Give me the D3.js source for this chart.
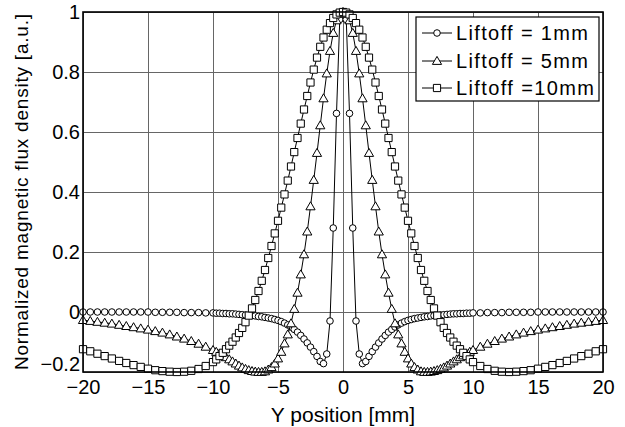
<!DOCTYPE html>
<html>
<head>
<meta charset="utf-8">
<script src="https://cdnjs.cloudflare.com/ajax/libs/d3/7.8.5/d3.min.js"></script>
<style>
    body { margin: 0; background: #fff; }
    text { font-family: "Liberation Sans", Arial, sans-serif; fill: #000; }
</style>
</head>
<body>
<div id="chart"></div>
<script>
"use strict";

// Y position [mm] of the samples
const yPos = [-20, -19.44, -18.89, -18.33, -17.78, -17.22, -16.67, -16.11, -15.56, -15, -14.44, -13.89, -13.33, -12.78, -12.22, -11.67, -11.11, -10.56,
    -10, -9.75, -9.5, -9.25, -9, -8.75, -8.5, -8.25, -8, -7.75, -7.5, -7.25, -7, -6.75, -6.5, -6.25, -6, -5.75, -5.5, -5.25, -5, -4.75, -4.5, -4.25, -4, -3.75, -3.5, -3.25, -3, -2.75, -2.5, -2.25, -2, -1.75, -1.5, -1.25, -1, -0.75, -0.5, -0.25,
    0,
    0.25, 0.5, 0.75, 1, 1.25, 1.5, 1.75, 2, 2.25, 2.5, 2.75, 3, 3.25, 3.5, 3.75, 4, 4.25, 4.5, 4.75, 5, 5.25, 5.5, 5.75, 6, 6.25, 6.5, 6.75, 7, 7.25, 7.5, 7.75, 8, 8.25, 8.5, 8.75, 9, 9.25, 9.5, 9.75, 10,
    10.56, 11.11, 11.67, 12.22, 12.78, 13.33, 13.89, 14.44, 15, 15.56, 16.11, 16.67, 17.22, 17.78, 18.33, 18.89, 19.44, 20];

// normalized flux density, liftoff 1mm
const liftoff1 = [0, 0, 0, 0, 0, 0, 0, 0, 0, 0, -0.001, -0.001, -0.001, -0.001, -0.002, -0.002, -0.002, -0.003,
    -0.003, -0.004, -0.004, -0.005, -0.005, -0.006, -0.006, -0.007, -0.008, -0.009, -0.010, -0.011, -0.012, -0.013, -0.015, -0.016, -0.018, -0.020, -0.022, -0.025, -0.028, -0.032, -0.037, -0.043, -0.050, -0.058, -0.067, -0.078, -0.090, -0.103, -0.117, -0.132, -0.148, -0.165, -0.172, -0.140, -0.030, 0.280, 0.662, 0.975,
    1.000,
    0.975, 0.662, 0.280, -0.030, -0.140, -0.172, -0.165, -0.148, -0.132, -0.117, -0.103, -0.090, -0.078, -0.067, -0.058, -0.050, -0.043, -0.037, -0.032, -0.028, -0.025, -0.022, -0.020, -0.018, -0.016, -0.015, -0.013, -0.012, -0.011, -0.010, -0.009, -0.008, -0.007, -0.006, -0.006, -0.005, -0.005, -0.004, -0.004, -0.003,
    -0.003, -0.002, -0.002, -0.002, -0.001, -0.001, -0.001, -0.001, 0, 0, 0, 0, 0, 0, 0, 0, 0, 0];

// liftoff 5mm
const liftoff5 = [-0.027, -0.030, -0.033, -0.036, -0.039, -0.043, -0.047, -0.051, -0.055, -0.059, -0.064, -0.069, -0.075, -0.082, -0.089, -0.097, -0.106, -0.116,
    -0.127, -0.133, -0.139, -0.145, -0.151, -0.158, -0.165, -0.172, -0.179, -0.185, -0.190, -0.194, -0.197, -0.199, -0.200, -0.200, -0.198, -0.192, -0.184, -0.172, -0.155, -0.133, -0.105, -0.075, -0.038, 0.010, 0.064, 0.125, 0.192, 0.268, 0.352, 0.440, 0.530, 0.622, 0.712, 0.795, 0.870, 0.930, 0.972, 0.994,
    1.000,
    0.994, 0.972, 0.930, 0.870, 0.795, 0.712, 0.622, 0.530, 0.440, 0.352, 0.268, 0.192, 0.125, 0.064, 0.010, -0.038, -0.075, -0.105, -0.133, -0.155, -0.172, -0.184, -0.192, -0.198, -0.200, -0.200, -0.199, -0.197, -0.194, -0.190, -0.185, -0.179, -0.172, -0.165, -0.158, -0.151, -0.145, -0.139, -0.133, -0.127,
    -0.116, -0.106, -0.097, -0.089, -0.082, -0.075, -0.069, -0.064, -0.059, -0.055, -0.051, -0.047, -0.043, -0.039, -0.036, -0.033, -0.030, -0.027];

// liftoff 10mm
const liftoff10 = [-0.124, -0.131, -0.139, -0.147, -0.155, -0.163, -0.170, -0.177, -0.183, -0.189, -0.194, -0.197, -0.199, -0.200, -0.199, -0.196, -0.190, -0.180,
    -0.167, -0.158, -0.147, -0.136, -0.124, -0.112, -0.099, -0.085, -0.070, -0.053, -0.034, -0.012, 0.012, 0.040, 0.070, 0.104, 0.140, 0.180, 0.220, 0.262, 0.304, 0.348, 0.392, 0.438, 0.485, 0.533, 0.580, 0.628, 0.675, 0.720, 0.765, 0.808, 0.848, 0.884, 0.915, 0.941, 0.963, 0.980, 0.992, 0.998,
    1.000,
    0.998, 0.992, 0.980, 0.963, 0.941, 0.915, 0.884, 0.848, 0.808, 0.765, 0.720, 0.675, 0.628, 0.580, 0.533, 0.485, 0.438, 0.392, 0.348, 0.304, 0.262, 0.220, 0.180, 0.140, 0.104, 0.070, 0.040, 0.012, -0.012, -0.034, -0.053, -0.070, -0.085, -0.099, -0.112, -0.124, -0.136, -0.147, -0.158, -0.167,
    -0.180, -0.190, -0.196, -0.199, -0.200, -0.199, -0.197, -0.194, -0.189, -0.183, -0.177, -0.170, -0.163, -0.155, -0.147, -0.139, -0.131, -0.124];

const seriesNames = ["Liftoff = 1mm", "Liftoff = 5mm", "Liftoff =10mm"];
const markerTypes = ["circle", "triangle", "square"];
const xTicks = [-20, -15, -10, -5, 0, 5, 10, 15, 20];
const yTicks = [-0.2, 0, 0.2, 0.4, 0.6, 0.8, 1];

let margin = {top: 12, right: 22, bottom: 55, left: 83},
    width = 625 - margin.left - margin.right,
    height = 427 - margin.top - margin.bottom;

let svg = d3.select("#chart")
    .append("svg")
    .attr("width", 625)
    .attr("height", 427);

let chart = svg.append("g")
    .attr("transform", "translate(" + margin.left + "," + margin.top + ")");

let x = d3.scaleLinear().domain([-20, 20]).range([0, width]);
let y = d3.scaleLinear().domain([-0.2, 1]).range([height, 0]);

// Grid
chart.append("g")
    .attr("class", "grid")
    .attr("transform", "translate(0," + height + ")")
    .call(d3.axisBottom(x).tickValues(xTicks).tickSize(-height).tickFormat(""))
    .call(g => g.select(".domain").remove())
    .call(g => g.selectAll("line").attr("stroke", "#666").attr("stroke-width", 1));
chart.append("g")
    .attr("class", "grid")
    .call(d3.axisLeft(y).tickValues(yTicks).tickSize(-width).tickFormat(""))
    .call(g => g.select(".domain").remove())
    .call(g => g.selectAll("line").attr("stroke", "#666").attr("stroke-width", 1));

// Tick labels
chart.append("g")
    .attr("transform", "translate(0," + height + ")")
    .call(d3.axisBottom(x).tickValues(xTicks).tickSize(0).tickPadding(8).tickFormat(d3.format("d")))
    .call(g => g.select(".domain").remove())
    .call(g => g.selectAll("text").style("font-size", "20px").style("font-family", "Liberation Sans"));
chart.append("g")
    .call(d3.axisLeft(y).tickValues(yTicks).tickSize(0).tickPadding(3).tickFormat(d3.format("~g")))
    .call(g => g.select(".domain").remove())
    .call(g => g.selectAll("text").style("font-size", "20px").style("font-family", "Liberation Sans"))
    .call(g => g.selectAll("text").filter(d => d === -0.2).attr("dy", "-0.1em"));

// Series
let series = [liftoff1, liftoff5, liftoff10];
let line = d3.line()
    .x(d => x(d[0]))
    .y(d => y(d[1]));

let markerPath = {
    circle: d3.symbol().type(d3.symbolCircle).size(Math.PI * 3.3 * 3.3)(),
    triangle: "M0,-4.6L4.6,3.4L-4.6,3.4Z",
    square: "M-3.6,-3.6H3.6V3.6H-3.6Z"
};

series.forEach(function (values, i) {
    let pts = yPos.map((p, k) => [p, values[k]]);
    let g = chart.append("g").attr("class", "series");
    g.append("path")
        .attr("d", line(pts))
        .attr("fill", "none")
        .attr("stroke", "#000")
        .attr("stroke-width", 1);
    g.selectAll(".marker")
        .data(pts)
        .enter().append("path")
        .attr("class", "marker")
        .attr("d", markerPath[markerTypes[i]])
        .attr("transform", d => "translate(" + x(d[0]) + "," + y(d[1]) + ")")
        .attr("fill", "#fff")
        .attr("stroke", "#000")
        .attr("stroke-width", 1);
});

// Axis box
chart.append("rect")
    .attr("width", width)
    .attr("height", height)
    .attr("fill", "none")
    .attr("stroke", "#000")
    .attr("stroke-width", 1.6);

// Axis titles
svg.append("text")
    .attr("x", margin.left + width / 2)
    .attr("y", 422)
    .attr("text-anchor", "middle")
    .style("font-size", "21px")
    .text("Y position [mm]");
svg.append("text")
    .attr("transform", "translate(28," + (margin.top + height / 2) + ") rotate(-90)")
    .attr("text-anchor", "middle")
    .attr("textLength", 356)
    .attr("lengthAdjust", "spacing")
    .style("font-size", "19px")
    .text("Normalized magnetic flux density [a.u.]");

// Legend
let legend = svg.append("g").attr("transform", "translate(416,17)");
legend.append("rect")
    .attr("width", 183)
    .attr("height", 84)
    .attr("fill", "#fff")
    .attr("stroke", "#000")
    .attr("stroke-width", 1.2);
let rowY = [16, 44, 71];
let textW = [132, 132, 138];
seriesNames.forEach(function (name, i) {
    let row = legend.append("g").attr("transform", "translate(0," + rowY[i] + ")");
    row.append("line")
        .attr("x1", 6).attr("x2", 36)
        .attr("stroke", "#000");
    row.append("path")
        .attr("d", markerPath[markerTypes[i]])
        .attr("transform", "translate(21,0)")
        .attr("fill", "#fff")
        .attr("stroke", "#000");
    row.append("text")
        .attr("x", 40)
        .attr("y", 7)
        .attr("textLength", textW[i])
        .attr("lengthAdjust", "spacing")
        .style("font-size", "20px")
        .text(name);
});
</script>
</body>
</html>
